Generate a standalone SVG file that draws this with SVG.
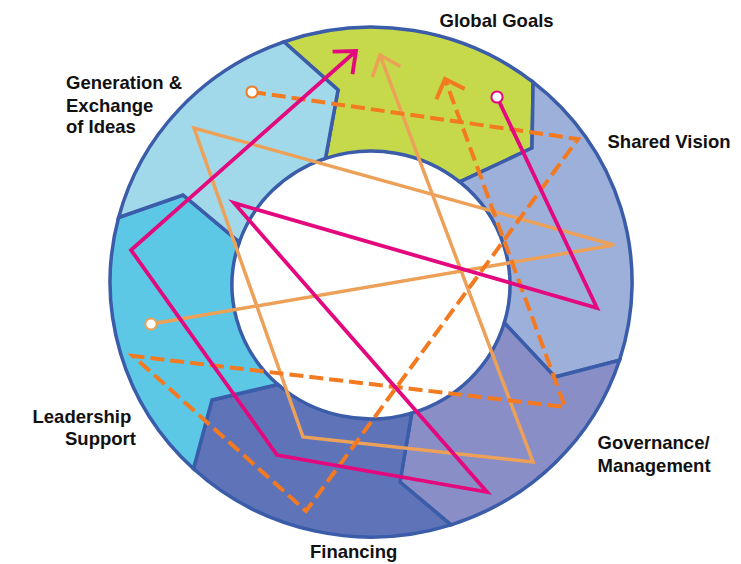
<svg xmlns="http://www.w3.org/2000/svg" width="741" height="564" viewBox="0 0 741 564">
<style>
.seg{stroke:#3a5ca9;stroke-width:3.5;stroke-linejoin:miter}
.lbl{font-family:"Liberation Sans",Arial,sans-serif;font-weight:bold;font-size:18.5px;fill:#111}
.ln{fill:none;stroke-linejoin:miter}
.mag{stroke:#e4087e;stroke-width:3.8}
.org{stroke:#eda057;stroke-width:3.5}
.dsh{stroke:#f37a20;stroke-width:4;stroke-dasharray:14 6}
</style>
<defs>
<marker id="ahMag" markerUnits="userSpaceOnUse" orient="auto" overflow="visible" markerWidth="1" markerHeight="1" refX="0" refY="0">
<path d="M -18 -15 L 0 0 L -18 15" fill="none" stroke="#e4087e" stroke-width="3.8"/>
</marker>
<marker id="ahOrg" markerUnits="userSpaceOnUse" orient="auto" overflow="visible" markerWidth="1" markerHeight="1" refX="0" refY="0">
<path d="M -18 -15 L 0 0 L -18 15" fill="none" stroke="#eda057" stroke-width="3.5"/>
</marker>
<marker id="ahDsh" markerUnits="userSpaceOnUse" orient="auto" overflow="visible" markerWidth="1" markerHeight="1" refX="0" refY="0">
<path d="M -16 -15 L 0 0 L -16 15" fill="none" stroke="#f37a20" stroke-width="4"/>
</marker>
<marker id="dotMag" markerUnits="userSpaceOnUse" overflow="visible" markerWidth="1" markerHeight="1" refX="0" refY="0">
<circle r="5.6" fill="#fff" stroke="#e4087e" stroke-width="2"/>
</marker>
<marker id="dotOrg" markerUnits="userSpaceOnUse" overflow="visible" markerWidth="1" markerHeight="1" refX="0" refY="0">
<circle r="5.6" fill="#fff" stroke="#eda057" stroke-width="2"/>
</marker>
<marker id="dotDsh" markerUnits="userSpaceOnUse" overflow="visible" markerWidth="1" markerHeight="1" refX="0" refY="0">
<circle r="5.6" fill="#fff" stroke="#f37a20" stroke-width="2"/>
</marker>
</defs>
<rect width="741" height="564" fill="#fff"/>

<g id="global-goals">
<path class="seg" fill="#c6d94b" d="M 283.8 41.8 A 261 255 0 0 1 533.1 82.1 L 532 148 L 459.7 181.9 A 139 134 0 0 0 325.5 158.4 L 338 90 Z"/>
<text class="lbl" x="439.5" y="27">Global Goals</text>
</g>
<g id="shared-vision">
<path class="seg" fill="#9cb0da" d="M 533.1 82.1 A 261 255 0 0 1 619.5 360.3 L 555 377 L 504.3 322.8 A 139 134 0 0 0 459.7 181.9 L 532 148 Z"/>
<text class="lbl" x="607.5" y="148">Shared Vision</text>
</g>
<g id="governance-management">
<path class="seg" fill="#8a8ec7" d="M 619.5 360.3 A 261 255 0 0 1 450.9 524.8 L 400 482 L 411.7 413.1 A 139 134 0 0 0 504.3 322.8 L 555 377 Z"/>
<text class="lbl" x="597.5" y="449">Governance/</text>
<text class="lbl" x="597.5" y="471.5">Management</text>
</g>
<g id="financing">
<path class="seg" fill="#5f74b8" d="M 450.9 524.8 A 261 255 0 0 1 193.5 468.8 L 212 400 L 277.9 384.5 A 139 134 0 0 0 411.7 413.1 L 400 482 Z"/>
<text class="lbl" x="310" y="558">Financing</text>
</g>
<g id="leadership-support">
<path class="seg" fill="#5cc8e6" d="M 193.5 468.8 A 261 255 0 0 1 118.6 217.5 L 183 195 L 239.3 242.1 A 139 134 0 0 0 277.9 384.5 L 212 400 Z"/>
<text class="lbl" x="32.5" y="423">Leadership</text>
<text class="lbl" x="65" y="445">Support</text>
</g>
<g id="generation-exchange">
<path class="seg" fill="#a2d9ea" d="M 118.6 217.5 A 261 255 0 0 1 283.8 41.8 L 338 90 L 325.5 158.4 A 139 134 0 0 0 239.3 242.1 L 183 195 Z"/>
<text class="lbl" x="66" y="89">Generation &amp;</text>
<text class="lbl" x="66" y="111.5">Exchange</text>
<text class="lbl" x="66" y="133">of Ideas</text>
</g>

<g id="connectors">
<path class="ln org" marker-start="url(#dotOrg)" marker-end="url(#ahOrg)" d="M 151 324 L 614 245 L 194 128 L 303 437 L 533 462 L 380 55"/>
<path class="ln dsh" marker-start="url(#dotDsh)" marker-end="url(#ahDsh)" d="M 252 92 L 578 139 L 306 511 L 133 356 L 565 407 L 445 79"/>
<path class="ln mag" marker-start="url(#dotMag)" marker-end="url(#ahMag)" d="M 497 97 L 597 308 L 234 203 L 487 492 L 277 455 L 131 250 L 356 51"/>
</g>
</svg>
